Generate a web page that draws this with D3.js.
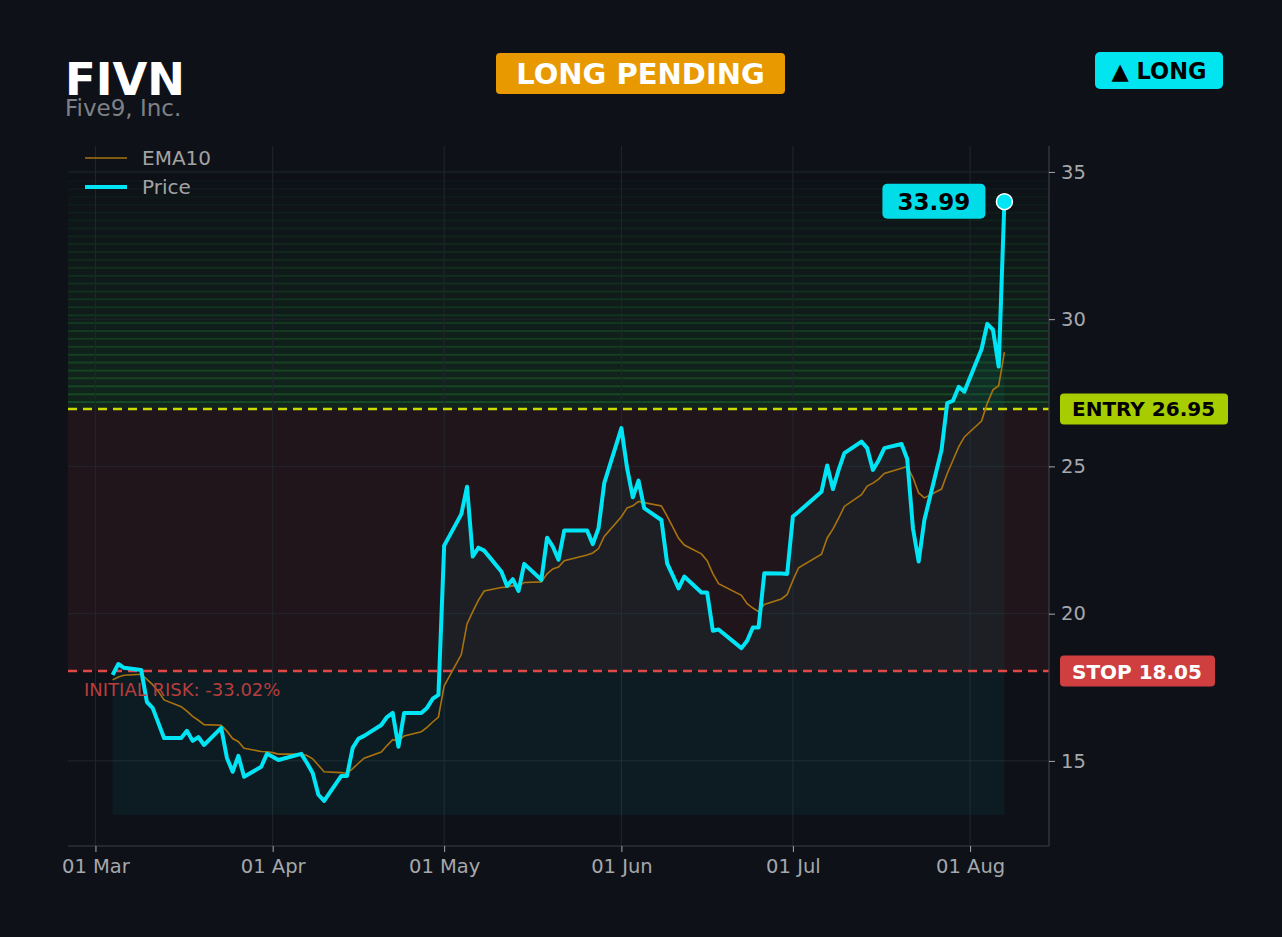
<!DOCTYPE html>
<html><head><meta charset="utf-8">
<script src="https://cdn.jsdelivr.net/npm/d3@7"></script>
<style>
html,body{margin:0;padding:0;background:#0e1118;}
svg{display:block;font-family:"DejaVu Sans",sans-serif;}
</style>
</head><body>
<svg id="chart" width="1282" height="937"></svg>
<script>
// ---- data ----
const ticker = "FIVN";
const companyName = "Five9, Inc.";
const statusLabel = "LONG PENDING";
const sideLabel = "▲ LONG";
const entryPrice = 26.95;
const stopPrice = 18.05;
const targetZoneTop = 35;
const fillFloor = 13.17;

const dates = [
 "2026-03-04","2026-03-05","2026-03-06","2026-03-09","2026-03-10","2026-03-11","2026-03-12","2026-03-13","2026-03-16","2026-03-17",
 "2026-03-18","2026-03-19","2026-03-20","2026-03-23","2026-03-24","2026-03-25","2026-03-26","2026-03-27","2026-03-30","2026-03-31",
 "2026-04-01","2026-04-02","2026-04-06","2026-04-07","2026-04-08","2026-04-09","2026-04-10","2026-04-13","2026-04-14","2026-04-15",
 "2026-04-16","2026-04-17","2026-04-20","2026-04-21","2026-04-22","2026-04-23","2026-04-24","2026-04-27","2026-04-28","2026-04-29","2026-04-30",
 "2026-05-01","2026-05-04","2026-05-05","2026-05-06","2026-05-07","2026-05-08","2026-05-11","2026-05-12","2026-05-13","2026-05-14",
 "2026-05-15","2026-05-18","2026-05-19","2026-05-20","2026-05-21","2026-05-22","2026-05-26","2026-05-27","2026-05-28","2026-05-29",
 "2026-06-01","2026-06-02","2026-06-03","2026-06-04","2026-06-05","2026-06-08","2026-06-09","2026-06-10","2026-06-11","2026-06-12",
 "2026-06-15","2026-06-16","2026-06-17","2026-06-18","2026-06-22","2026-06-23","2026-06-24","2026-06-25","2026-06-26","2026-06-29","2026-06-30",
 "2026-07-01","2026-07-02","2026-07-06","2026-07-07","2026-07-08","2026-07-09","2026-07-10","2026-07-13","2026-07-14","2026-07-15",
 "2026-07-16","2026-07-17","2026-07-20","2026-07-21","2026-07-22","2026-07-23","2026-07-24","2026-07-27","2026-07-28","2026-07-29",
 "2026-07-30","2026-07-31","2026-08-03","2026-08-04","2026-08-05","2026-08-06","2026-08-07"
];
const price = [
 17.92,18.29,18.16,18.09,17.00,16.80,16.29,15.78,15.78,16.02,15.68,15.81,15.54,16.12,15.10,14.63,15.17,14.46,14.80,15.24,
 15.14,15.03,15.24,14.93,14.59,13.85,13.64,14.49,14.49,15.44,15.75,15.85,16.22,16.49,16.63,15.48,16.63,16.63,16.80,17.11,17.24,
 22.31,23.38,24.31,21.94,22.24,22.14,21.43,20.94,21.17,20.77,21.69,21.15,22.58,22.28,21.83,22.82,22.82,22.36,22.90,24.43,
 26.30,24.94,23.95,24.52,23.58,23.18,21.71,21.29,20.86,21.26,20.72,20.72,19.42,19.46,18.83,19.08,19.53,19.53,21.37,21.36,21.35,
 23.30,23.46,24.14,25.03,24.23,24.88,25.45,25.84,25.62,24.88,25.21,25.62,25.76,25.25,22.90,21.77,23.18,25.56,27.15,27.23,27.70,27.54,
 28.98,29.84,29.64,28.39,33.99
];
const ema10 = [
 17.75,17.85,17.91,17.94,17.77,17.59,17.36,17.07,16.84,16.69,16.51,16.38,16.23,16.21,16.01,15.76,15.65,15.43,15.32,15.31,
 15.28,15.23,15.23,15.18,15.07,14.85,14.63,14.60,14.58,14.74,14.92,15.09,15.30,15.52,15.72,15.68,15.85,15.99,16.14,16.32,16.49,
 17.55,18.61,19.65,20.07,20.46,20.77,20.89,20.90,20.95,20.92,21.06,21.08,21.35,21.52,21.58,21.80,21.99,22.06,22.21,22.62,
 23.29,23.59,23.66,23.81,23.77,23.66,23.31,22.94,22.56,22.33,22.03,21.80,21.36,21.02,20.62,20.34,20.19,20.07,20.31,20.50,20.65,
 21.13,21.56,22.02,22.57,22.87,23.24,23.64,24.04,24.33,24.43,24.57,24.76,24.94,25.00,24.62,24.10,23.93,24.23,24.76,25.21,25.66,26.00,
 26.54,27.14,27.60,27.74,28.88
];
const xTickDates = ["2026-03-01","2026-04-01","2026-05-01","2026-06-01","2026-07-01","2026-08-01"];
const yTicks = [15, 20, 25, 30, 35];
const yDomain = [12.11, 35.88];

// ---- setup ----
const parse = d3.utcParse("%Y-%m-%d");
const rows = dates.map((d, i) => ({date: parse(d), price: price[i], ema: ema10[i]}));
const svg = d3.select("#chart");
const W = 1282, H = 937;
const plot = {left: 68, right: 1049, top: 146, bottom: 846};

const C = {
  bg: "#0e1118", grid: "#22262d", spine: "#3b3e45", tick: "#a6a8ab",
  price: "#00e5f5", ema: "#a8730f", entry: "#c8dc00", stop: "#e04848",
  red: "#e04040", green: "#2ab43c", orange: "#e89900"
};

svg.append("rect").attr("width", W).attr("height", H).attr("fill", C.bg);

const first = rows[0].date, last = rows[rows.length - 1].date;
const span = last - first;
const x = d3.scaleUtc()
  .domain([new Date(+first - 0.05 * span), new Date(+last + 0.05 * span)])
  .range([plot.left, plot.right]);
const y = d3.scaleLinear().domain(yDomain).range([plot.bottom, plot.top]);

const clipId = "plotclip";
svg.append("clipPath").attr("id", clipId).append("rect")
  .attr("x", plot.left).attr("y", plot.top)
  .attr("width", plot.right - plot.left).attr("height", plot.bottom - plot.top);
const g = svg.append("g").attr("clip-path", `url(#${clipId})`);

// risk zone (stop -> entry)
g.append("rect")
  .attr("x", plot.left).attr("width", plot.right - plot.left)
  .attr("y", y(entryPrice)).attr("height", y(stopPrice) - y(entryPrice))
  .attr("fill", C.red).attr("opacity", 0.09);

// reward gradient (entry -> target), striped
const nBands = 30;
const bandStep = (targetZoneTop - entryPrice) / nBands;
const bands = d3.range(nBands).map(i => ({lo: entryPrice + i * bandStep, hi: entryPrice + (i + 1) * bandStep, k: 1 - i / nBands}));
g.selectAll("rect.band").data(bands).join("rect").attr("class", "band")
  .attr("x", plot.left).attr("width", plot.right - plot.left)
  .attr("y", d => y(d.hi)).attr("height", d => y(d.lo) - y(d.hi))
  .attr("fill", C.green).attr("opacity", d => 0.004 + 0.12 * d.k);
g.selectAll("line.band").data(bands).join("line").attr("class", "band")
  .attr("x1", plot.left).attr("x2", plot.right)
  .attr("y1", d => y(d.hi) + 1).attr("y2", d => y(d.hi) + 1)
  .attr("stroke", C.green).attr("stroke-width", 2).attr("opacity", d => 0.01 + 0.24 * d.k);

// grid
g.selectAll("line.vgrid").data(xTickDates.map(parse)).join("line").attr("class", "vgrid")
  .attr("x1", d => x(d)).attr("x2", d => x(d)).attr("y1", plot.top).attr("y2", plot.bottom)
  .attr("stroke", C.grid).attr("stroke-width", 1);
g.selectAll("line.hgrid").data(yTicks).join("line").attr("class", "hgrid")
  .attr("x1", plot.left).attr("x2", plot.right).attr("y1", d => y(d)).attr("y2", d => y(d))
  .attr("stroke", C.grid).attr("stroke-width", 1);

// area under price
const area = d3.area()
  .x(d => x(d.date))
  .y0(y(fillFloor))
  .y1(d => y(Math.max(d.price, stopPrice)));
g.append("path").datum(rows).attr("d", area).attr("fill", C.price).attr("opacity", 0.05);

// entry / stop lines
g.append("line").attr("x1", plot.left).attr("x2", plot.right)
  .attr("y1", y(entryPrice)).attr("y2", y(entryPrice))
  .attr("stroke", C.entry).attr("stroke-width", 2.4).attr("stroke-dasharray", "9,6");
g.append("line").attr("x1", plot.left).attr("x2", plot.right)
  .attr("y1", y(stopPrice)).attr("y2", y(stopPrice))
  .attr("stroke", C.stop).attr("stroke-width", 2.4).attr("stroke-dasharray", "9,6");

// EMA & price
g.append("path").datum(rows)
  .attr("d", d3.line().x(d => x(d.date)).y(d => y(d.ema)))
  .attr("fill", "none").attr("stroke", C.ema).attr("stroke-width", 1.6);
g.append("path").datum(rows)
  .attr("d", d3.line().x(d => x(d.date)).y(d => y(d.price)))
  .attr("fill", "none").attr("stroke", C.price).attr("stroke-width", 4)
  .attr("stroke-linejoin", "round");

// spines
svg.append("line").attr("x1", plot.left).attr("x2", plot.right).attr("y1", plot.bottom).attr("y2", plot.bottom)
  .attr("stroke", C.spine).attr("stroke-width", 1.2);
svg.append("line").attr("x1", plot.right).attr("x2", plot.right).attr("y1", plot.top).attr("y2", plot.bottom)
  .attr("stroke", C.spine).attr("stroke-width", 1.2);

// axes
const xAxis = d3.axisBottom(x).tickValues(xTickDates.map(parse))
  .tickFormat(d3.utcFormat("%d %b")).tickSize(6).tickPadding(7);
const xg = svg.append("g").attr("transform", `translate(0,${plot.bottom})`).call(xAxis);
const yAxis = d3.axisRight(y).tickValues(yTicks).tickSize(6).tickPadding(6);
const yg = svg.append("g").attr("transform", `translate(${plot.right},0)`).call(yAxis);
[xg, yg].forEach(a => {
  a.select(".domain").remove();
  a.selectAll(".tick line").attr("stroke", C.tick).attr("stroke-width", 1);
  a.selectAll(".tick text").attr("fill", C.tick).style("font-size", "19.5px")
    .style("font-family", "'DejaVu Sans', sans-serif");
});

// last price marker & label
const lastRow = rows[rows.length - 1];
svg.append("circle").attr("cx", x(lastRow.date)).attr("cy", y(lastRow.price)).attr("r", 8)
  .attr("fill", C.price).attr("stroke", "#ffffff").attr("stroke-width", 1.5);
const lx = x(lastRow.date) - 19, ly = y(lastRow.price);
svg.append("rect").attr("x", lx - 103).attr("y", ly - 18).attr("width", 103).attr("height", 35)
  .attr("rx", 5).attr("fill", "#00dce8");
svg.append("text").attr("x", lx - 51.5).attr("y", ly + 8).attr("text-anchor", "middle")
  .attr("fill", "#000").style("font-weight", "bold").style("font-size", "23px")
  .text(d3.format(".2f")(lastRow.price));

// entry / stop tags
function tag(val, label, fill, color, w) {
  const cy = y(val);
  svg.append("rect").attr("x", 1060).attr("y", cy - 15.5).attr("width", w).attr("height", 31)
    .attr("rx", 4).attr("fill", fill);
  svg.append("text").attr("x", 1072).attr("y", cy + 7.5).attr("fill", color)
    .style("font-weight", "bold").style("font-size", "20px").text(label);
}
tag(entryPrice, `ENTRY ${entryPrice.toFixed(2)}`, "#a7cc00", "#000", 168);
tag(stopPrice, `STOP ${stopPrice.toFixed(2)}`, "#cf3f3f", "#fff", 155);

// initial risk text
const riskPct = (stopPrice - entryPrice) / entryPrice * 100;
svg.append("text").attr("x", 84).attr("y", y(stopPrice) + 25)
  .attr("fill", "#b93d3d").style("font-size", "18px")
  .text(`INITIAL RISK: ${riskPct.toFixed(2)}%`);

// legend
const legend = [{name: "EMA10", color: C.ema, w: 1.6, yy: 158}, {name: "Price", color: C.price, w: 4, yy: 187}];
legend.forEach(l => {
  svg.append("line").attr("x1", 85).attr("x2", 127).attr("y1", l.yy).attr("y2", l.yy)
    .attr("stroke", l.color).attr("stroke-width", l.w);
  svg.append("text").attr("x", 142).attr("y", l.yy + 7).attr("fill", "#a3a3a3")
    .style("font-size", "20px").text(l.name);
});

// title
svg.append("text").attr("x", 65).attr("y", 95).attr("fill", "#ffffff")
  .style("font-weight", "bold").style("font-size", "45px").text(ticker);
svg.append("text").attr("x", 65).attr("y", 116).attr("fill", "#7e8187")
  .style("font-size", "23px").text(companyName);

// status badge
svg.append("rect").attr("x", 496).attr("y", 53).attr("width", 289).attr("height", 41).attr("rx", 4)
  .attr("fill", C.orange);
svg.append("text").attr("x", 640.5).attr("y", 84).attr("text-anchor", "middle").attr("fill", "#fff")
  .style("font-weight", "bold").style("font-size", "29px").text(statusLabel);

// side badge
svg.append("rect").attr("x", 1095).attr("y", 52).attr("width", 128).attr("height", 37).attr("rx", 5)
  .attr("fill", "#00e5f0");
svg.append("text").attr("x", 1159).attr("y", 79).attr("text-anchor", "middle").attr("fill", "#000")
  .style("font-weight", "bold").style("font-size", "22.5px").text(sideLabel);
</script>
</body></html>
